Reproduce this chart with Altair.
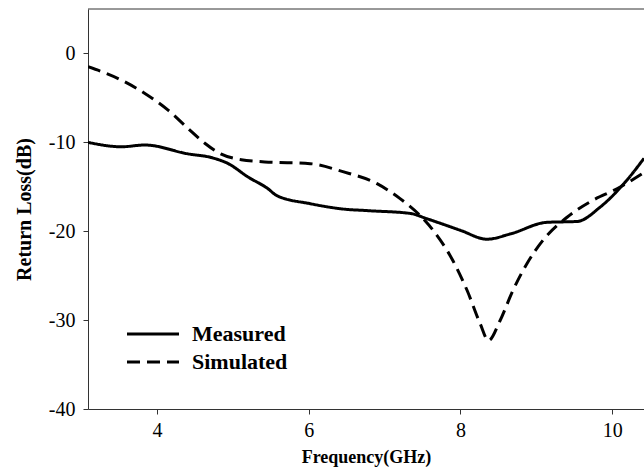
import altair as alt
import pandas as pd

measured_f = [3.09, 3.53, 3.84, 4.41, 4.71, 4.94, 5.20, 5.46, 5.58, 6.02, 6.45, 6.81, 7.34, 7.56, 8.0, 8.35, 8.66, 9.14, 9.54, 9.84, 10.19, 10.42]
measured_db = [-10.0, -10.5, -10.3, -11.3, -11.7, -12.4, -13.9, -15.2, -16.0, -16.9, -17.5, -17.7, -18.0, -18.6, -19.9, -20.9, -20.3, -19.0, -18.9, -17.3, -14.3, -11.8]

simulated_f = [3.09, 3.53, 3.84, 4.15, 4.41, 4.63, 4.84, 5.11, 5.42, 6.02, 6.45, 6.90, 7.20, 7.51, 7.64, 7.90, 8.09, 8.26, 8.37, 8.52, 8.69, 8.88, 9.09, 9.41, 9.75, 10.07, 10.42]
simulated_db = [-1.5, -3.0, -4.5, -6.4, -8.45, -10.1, -11.3, -11.95, -12.2, -12.4, -13.3, -14.65, -16.3, -18.6, -19.9, -23.3, -26.7, -30.4, -32.3, -30.1, -26.7, -23.6, -21.0, -18.4, -16.5, -15.2, -13.4]

series = ["Measured", "Simulated"]

df = pd.concat([
    pd.DataFrame({"f": measured_f, "db": measured_db, "s": series[0]}),
    pd.DataFrame({"f": simulated_f, "db": simulated_db, "s": series[1]}),
])

W, H = 556, 400
FONT = "Liberation Serif"
DASHES = [[1, 0], [13, 7]]

lines = alt.Chart(df).mark_line(color="black", strokeWidth=3, interpolate="monotone", clip=True).encode(
    x=alt.X("f:Q", scale=alt.Scale(domain=[3.09, 10.42], nice=False, zero=False),
            axis=alt.Axis(title="Frequency(GHz)", values=[4, 6, 8, 10], grid=False,
                          tickSize=5, labelPadding=6, titlePadding=8, titleFontSize=18)),
    y=alt.Y("db:Q", scale=alt.Scale(domain=[-40, 5], nice=False),
            axis=alt.Axis(title="Return Loss(dB)", values=[-40, -30, -20, -10, 0], grid=False,
                          tickSize=5, labelPadding=8, titlePadding=14, titleFontSize=20,
                          labelExpr="datum.value + ''")),
    strokeDash=alt.StrokeDash("s:N", scale=alt.Scale(domain=series, range=DASHES), legend=None),
    detail="s:N",
)

top_line = alt.Chart(pd.DataFrame({"a": [0]})).mark_rule(color="#333", strokeWidth=1).encode(
    x=alt.value(0), x2=alt.value(W + 2), y=alt.value(0)
)

legend_layers = []
for i, name in enumerate(series):
    ly = 325 + 28 * i
    src = pd.DataFrame({"s": [name]})
    legend_layers.append(
        alt.Chart(src).mark_rule(color="black", strokeWidth=3, strokeDash=DASHES[i]).encode(
            x=alt.value(39), x2=alt.value(91), y=alt.value(ly)
        )
    )
    legend_layers.append(
        alt.Chart(src).mark_text(font=FONT, fontSize=22, fontWeight="bold", color="black",
                                 align="left", baseline="alphabetic").encode(
            text="s:N", x=alt.value(104), y=alt.value(ly + 7)
        )
    )

chart = alt.layer(lines, top_line, *legend_layers).properties(
    width=W, height=H,
    autosize=alt.AutoSizeParams(type="none"),
    padding={"left": 88, "top": 9, "right": 0, "bottom": 62},
).configure_view(stroke=None).configure_axis(
    labelFont=FONT, labelFontSize=20, labelColor="black",
    titleFont=FONT, titleFontWeight="bold", titleColor="black",
    domainColor="#333", tickColor="#333", domainWidth=1,
)

chart.save("out.html", embed_options={"renderer": "svg", "actions": False})
